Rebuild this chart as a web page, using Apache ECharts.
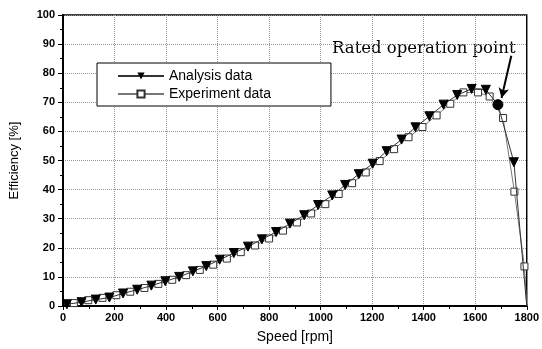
<!DOCTYPE html>
<html>
<head>
<meta charset="utf-8">
<script src="https://cdn.jsdelivr.net/npm/echarts@6/dist/echarts.min.js"></script>
<style>
  html, body { margin: 0; padding: 0; background: #fff; }
  #chart { width: 542px; height: 349px; }
</style>
</head>
<body>
<div id="chart"></div>
<script>
// analysis data (speed rpm, efficiency %)
var analysisSpeed = [15, 72, 127, 180, 233, 288, 343, 397, 451, 504, 556, 608, 663, 718, 772, 827, 881, 936, 990, 1045, 1095, 1148, 1202, 1256, 1314, 1368, 1422, 1477, 1530, 1586, 1641, 1688, 1750, 1800];
var analysisEff = [0.6, 1.3, 2.2, 2.9, 4.3, 5.6, 7.0, 8.5, 10.0, 11.9, 13.7, 15.9, 18.2, 20.4, 22.9, 25.4, 28.3, 31.2, 34.7, 38.0, 41.6, 45.3, 48.9, 53.2, 57.2, 61.4, 65.2, 69.2, 72.5, 74.6, 74.3, 69.2, 49.4, 0];
// experiment data
var expSpeed = [42, 98, 153, 207, 261, 316, 370, 424, 478, 531, 583, 636, 690, 745, 800, 854, 908, 963, 1018, 1070, 1122, 1175, 1229, 1285, 1341, 1395, 1450, 1503, 1554, 1611, 1656, 1708, 1752, 1791, 1800];
var expEff = [1.0, 2.0, 2.8, 3.7, 4.9, 6.2, 7.6, 9.0, 10.6, 12.4, 14.2, 16.3, 18.5, 20.8, 23.2, 25.9, 28.7, 31.8, 35.0, 38.5, 42.2, 45.9, 49.8, 53.9, 58.0, 61.5, 65.5, 69.5, 73.4, 73.4, 72.0, 64.6, 39.3, 13.6, 0];
var ratedIndex = 31;
var arrowFrom = [1740, 86];
var arrowTo = [1702, 71.5];

var analysisPts = analysisSpeed.map(function (s, i) {
  var p = { value: [s, analysisEff[i]] };
  if (i === ratedIndex) { p.symbol = 'circle'; p.symbolSize = 10; }
  if (i === analysisSpeed.length - 1) { p.symbolSize = 0; }
  return p;
});
var expPts = expSpeed.map(function (s, i) {
  var p = { value: [s, expEff[i]] };
  if (i === expSpeed.length - 1) { p.symbolSize = 0; }
  return p;
});

var tickFont = { color: '#000', fontFamily: 'Arial, Liberation Sans, sans-serif', fontWeight: 'bold', fontSize: 11 };

var chart = echarts.init(document.getElementById('chart'));
chart.setOption({
  animation: false,
  backgroundColor: '#fff',
  grid: { left: 61, right: 13, top: 15, bottom: 42, show: true, borderColor: '#000', borderWidth: 1.5, backgroundColor: 'transparent' },
  legend: {
    orient: 'vertical',
    left: 97, top: 63,
    width: 195,
    itemWidth: 46, itemHeight: 9, itemGap: 4,
    padding: [6, 60, 5, 20],
    borderColor: '#000', borderWidth: 1,
    backgroundColor: '#fff',
    textStyle: { fontFamily: 'Arial, Liberation Sans, sans-serif', fontSize: 14, color: '#000' },
    data: ['Analysis data', 'Experiment data']
  },
  graphic: [{
    type: 'text', left: 332, top: 40,
    style: { text: 'Rated operation point', font: '16.5px "DejaVu Serif", serif', fill: '#000' }
  }],
  xAxis: {
    type: 'value', min: 0, max: 1800, interval: 200,
    name: 'Speed [rpm]', nameLocation: 'middle', nameGap: 24,
    nameTextStyle: { fontFamily: 'Arial, Liberation Sans, sans-serif', fontSize: 14, color: '#000' },
    axisLine: { lineStyle: { color: '#000', width: 2 } },
    axisTick: { length: 4, lineStyle: { color: '#000', width: 1 } },
    minorTick: { show: true, splitNumber: 2, length: 3, lineStyle: { color: '#000' } },
    axisLabel: Object.assign({ margin: 6, formatter: function (v) { return String(v); } }, tickFont),
    splitLine: { show: true, lineStyle: { color: '#999', type: 'dotted', width: 1 } }
  },
  yAxis: {
    type: 'value', min: 0, max: 100, interval: 10,
    name: 'Efficiency [%]', nameLocation: 'middle', nameGap: 42,
    nameTextStyle: { fontFamily: '"Liberation Sans Narrow", "Arial Narrow", Arial, sans-serif', fontSize: 13, color: '#000' },
    axisLine: { lineStyle: { color: '#000', width: 2 } },
    axisTick: { length: 5, lineStyle: { color: '#000', width: 1 } },
    minorTick: { show: true, splitNumber: 2, length: 3, lineStyle: { color: '#000' } },
    axisLabel: Object.assign({ margin: 8 }, tickFont),
    splitLine: { show: true, lineStyle: { color: '#999', type: 'dotted', width: 1 } }
  },
  series: [{
    name: 'Analysis data',
    type: 'line',
    data: analysisPts,
    symbol: 'triangle', symbolRotate: 180, symbolSize: 9,
    lineStyle: { color: '#333', width: 1 },
    itemStyle: { color: '#000', borderColor: '#000' },
    z: 3,
    markLine: {
      silent: true,
      symbol: ['none', 'arrow'], symbolSize: [8, 10],
      label: { show: false },
      lineStyle: { color: '#000', width: 2, type: 'solid' },
      data: [[{ coord: arrowFrom }, { coord: arrowTo }]]
    }
  }, {
    name: 'Experiment data',
    type: 'line',
    data: expPts,
    symbol: 'rect', symbolSize: 7,
    lineStyle: { color: '#777', width: 1 },
    itemStyle: { color: '#fff', borderColor: '#333', borderWidth: 1 },
    z: 2
  }]
});
</script>
</body>
</html>
